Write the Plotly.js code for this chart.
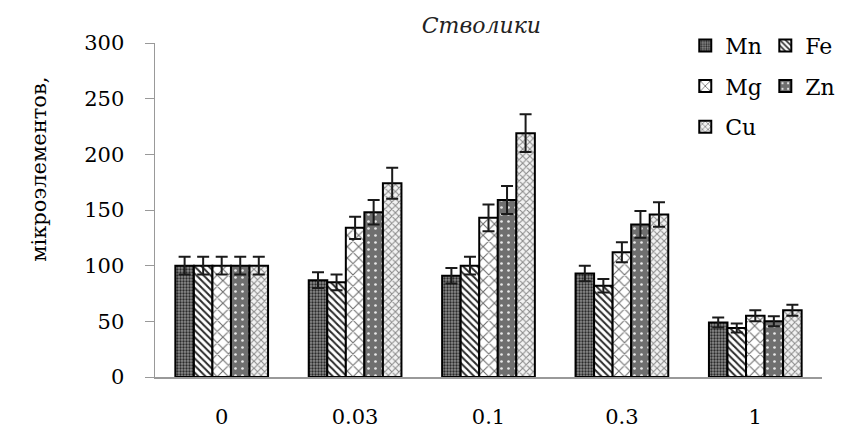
<!DOCTYPE html>
<html>
<head>
<meta charset="utf-8">
<script src="https://cdn.plot.ly/plotly-3.0.1.min.js"></script>
<style>html,body{margin:0;padding:0;background:#fff;}#chart{width:852px;height:429px;}</style>
</head>
<body>
<div id="chart"></div>
<script>
const categories = ["0", "0.03", "0.1", "0.3", "1"];
const seriesNames = ["Mn", "Fe", "Mg", "Zn", "Cu"];
const mnValues = [100, 87, 91, 93, 49];
const feValues = [100, 85, 100, 82, 44];
const mgValues = [100, 134, 143, 112, 55];
const znValues = [100, 148, 159, 137, 50];
const cuValues = [100, 174, 219, 146, 60];
const mnErrors = [8, 7, 7, 7, 4.5];
const feErrors = [8, 7, 8, 6, 4];
const mgErrors = [8, 10, 12, 9, 5];
const znErrors = [8, 11, 12.5, 12, 4.5];
const cuErrors = [8, 14, 17, 11, 5];
const yTicks = [0, 50, 100, 150, 200, 250, 300];

const values = [mnValues, feValues, mgValues, znValues, cuValues];
const errors = [mnErrors, feErrors, mgErrors, znErrors, cuErrors];
const patterns = [
  {shape: ".", bgcolor: "#8c8c8c", fgcolor: "#2a2a2a", size: 3, solidity: 0.45},
  {shape: "\\", bgcolor: "#ffffff", fgcolor: "#2a2a2a", size: 5, solidity: 0.4},
  {shape: "x", bgcolor: "#ffffff", fgcolor: "#6e6e6e", size: 8, solidity: 0.25},
  {shape: ".", bgcolor: "#6f6f6f", fgcolor: "#e8e8e8", size: 7, solidity: 0.12},
  {shape: "x", bgcolor: "#f2f2f2", fgcolor: "#8a8a8a", size: 5, solidity: 0.38}
];
const legendOf = ["legend", "legend2", "legend", "legend2", "legend"];

const traces = seriesNames.map((name, i) => ({
  type: "bar",
  name: name,
  x: categories,
  y: values[i],
  legend: legendOf[i],
  legendgroup: name,
  error_y: {type: "data", array: errors[i], visible: true, color: "#1a1a1a", thickness: 2, width: 6},
  marker: {color: patterns[i].bgcolor, pattern: patterns[i], line: {color: "#000", width: 2}}
}));

const serif = "DejaVu Serif";
const layout = {
  width: 852, height: 429,
  margin: {l: 155, r: 20, t: 43, b: 52},
  paper_bgcolor: "#fff", plot_bgcolor: "#fff",
  barmode: "group", bargap: 0.305, bargroupgap: 0,
  font: {family: serif, size: 21, color: "#000"},
  title: {text: "Стволики", font: {family: serif, size: 22, style: "italic", color: "#222"}, x: 0.565, xanchor: "center", y: 0.94, yanchor: "middle"},
  xaxis: {type: "category", showline: true, linecolor: "#999", linewidth: 1.5, ticks: "", showgrid: false, zeroline: false, ticklabelstandoff: 20, tickfont: {family: serif, size: 21}},
  yaxis: {range: [0, 300], tickvals: yTicks, showline: true, linecolor: "#999", linewidth: 1.5, ticks: "outside", ticklen: 9, tickcolor: "#999", showgrid: false, zeroline: false, ticklabelstandoff: 16, tickfont: {family: serif, size: 21}},
  legend: {x: 0.795, xanchor: "left", y: 1.055, yanchor: "top", orientation: "v", tracegroupgap: 9, font: {family: serif, size: 22}, bgcolor: "rgba(0,0,0,0)"},
  legend2: {x: 0.915, xanchor: "left", y: 1.055, yanchor: "top", orientation: "v", tracegroupgap: 9, font: {family: serif, size: 22}, bgcolor: "rgba(0,0,0,0)"},
  annotations: [{text: "мікроэлементов,", xref: "paper", yref: "paper", x: -0.174, y: 0.623, xanchor: "center", yanchor: "middle", textangle: -90, showarrow: false, font: {family: serif, size: 21, color: "#000"}}]
};

Plotly.newPlot("chart", traces, layout, {displayModeBar: false, staticPlot: true});
</script>
</body>
</html>
